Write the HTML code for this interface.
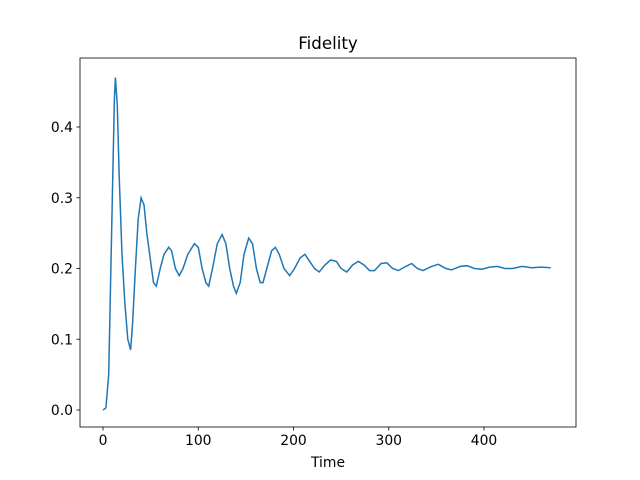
<!DOCTYPE html>
<html><head><meta charset="utf-8"><style>
body{margin:0;background:#fff}
svg{display:block;font-family:"DejaVu Sans","Liberation Sans",sans-serif}
</style></head><body>
<svg id="chart" width="640" height="480">
<rect x="0" y="0" width="640" height="480" fill="#fff"/>
<text x="328" y="49" text-anchor="middle" font-size="16.7">Fidelity</text>
<text x="328" y="467" text-anchor="middle" font-size="13.9">Time</text>
<g id="ticks"></g>
<path id="line" fill="none" stroke="#1f77b4" stroke-width="1.5"/>
<rect x="80" y="58" width="496" height="369" fill="none" stroke="#000" stroke-width="0.8"/>
</svg>
<script>
const times=[0,3,6,9,12,13,15,17,20,23,26,29,31,34,37,40,43,46,50,53,56,60,64,69,72,76,80,84,89,96,100,104,108,111,115,120,125,129,133,137,140,144,148,153,157,161,165,168,172,177,181,185,190,196,201,207,212,217,222,227,233,239,245,250,256,262,268,274,280,285,292,298,304,310,318,324,330,336,345,352,360,366,375,382,390,398,406,414,422,430,440,450,460,470];
const fidelity=[0,0.003,0.05,0.25,0.44,0.47,0.43,0.33,0.22,0.15,0.10,0.085,0.12,0.2,0.27,0.30,0.29,0.25,0.21,0.18,0.175,0.2,0.22,0.23,0.225,0.2,0.19,0.2,0.22,0.235,0.23,0.2,0.18,0.175,0.2,0.235,0.248,0.235,0.2,0.175,0.165,0.18,0.22,0.243,0.235,0.2,0.18,0.18,0.2,0.225,0.23,0.22,0.2,0.19,0.2,0.215,0.22,0.21,0.2,0.195,0.205,0.212,0.21,0.2,0.195,0.205,0.21,0.205,0.197,0.197,0.207,0.208,0.2,0.197,0.203,0.207,0.2,0.197,0.203,0.206,0.2,0.198,0.203,0.204,0.2,0.199,0.202,0.203,0.2,0.2,0.203,0.201,0.202,0.201];
const xTicks=[0,100,200,300,400];
const yTicks=[0.0,0.1,0.2,0.3,0.4];
const xs=t=>103+t*(381/400);
const ys=v=>410-v*(283/0.4);
const ns="http://www.w3.org/2000/svg";
const g=document.getElementById('ticks');
xTicks.forEach(t=>{
  const l=document.createElementNS(ns,'line');
  l.setAttribute('x1',xs(t));l.setAttribute('x2',xs(t));l.setAttribute('y1',427);l.setAttribute('y2',430.5);
  l.setAttribute('stroke','#000');l.setAttribute('stroke-width','0.8');
  
  
  g.appendChild(l);
  const tx=document.createElementNS(ns,'text');
  tx.setAttribute('x',xs(t));tx.setAttribute('y',445);tx.setAttribute('text-anchor','middle');tx.setAttribute('font-size','13.9');
  tx.textContent=t;
  
  
  g.appendChild(tx);
});
yTicks.forEach(v=>{
  const l=document.createElementNS(ns,'line');
  l.setAttribute('x1',76.5);l.setAttribute('x2',80);l.setAttribute('y1',ys(v));l.setAttribute('y2',ys(v));
  l.setAttribute('stroke','#000');l.setAttribute('stroke-width','0.8');
  
  
  g.appendChild(l);
  const tx=document.createElementNS(ns,'text');
  tx.setAttribute('x',73);tx.setAttribute('y',ys(v)+5);tx.setAttribute('text-anchor','end');tx.setAttribute('font-size','13.9');
  tx.textContent=v.toFixed(1);
  
  
  g.appendChild(tx);
});
document.getElementById('line').setAttribute('d',times.map((t,i)=>(i?'L':'M')+xs(t).toFixed(1)+','+ys(fidelity[i]).toFixed(1)).join(''));
</script>
</body></html>
